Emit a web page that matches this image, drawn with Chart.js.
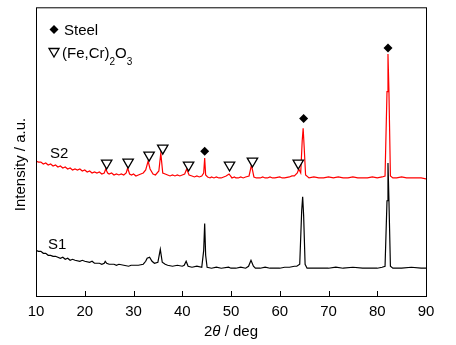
<!DOCTYPE html>
<html>
<head>
<meta charset="utf-8">
<script src="https://cdn.jsdelivr.net/npm/chart.js@4"></script>
<style>
  body { margin: 0; background: #fff; }
  canvas { display: block; }
</style>
</head>
<body>
<canvas id="xrd" width="456" height="345"></canvas>
<script>
// 2theta positions and intensities (a.u.)
const theta1 = [
  10, 10.5, 11, 11.5, 12, 12.5, 13, 13.5, 14, 15,
  15.5, 16, 16.5, 17, 17.5, 18, 19, 19.5, 20, 21,
  21.5, 22, 23, 23.5, 24, 24.2, 24.5, 25, 26, 26.5,
  27, 28, 29, 29.5, 30, 31, 32, 32.5, 32.8, 33.3,
  33.8, 34.3, 35, 35.5, 35.9, 36.5, 37, 38, 39, 40,
  40.4, 40.8, 41.2, 42, 43, 44, 44.4, 44.6, 44.8, 45.1,
  46, 47, 48, 49.5, 50, 51, 52, 53, 53.6, 54.1,
  54.6, 55, 56, 57, 58, 59, 60, 61, 62, 63,
  63.5, 64.1, 64.5, 64.7, 64.9, 65.2, 65.6, 67, 68, 70,
  71.5, 73, 75, 77, 80, 81, 81.6, 82.0, 82.2, 82.4,
  82.7, 83.2, 85, 87, 89, 90
];
const s1 = [
  46, 45, 45, 43, 43, 41, 41, 40, 40, 38,
  39, 37, 38, 36, 37, 36, 35, 36, 35, 34,
  35, 33, 33, 32, 33, 35, 33, 32, 32, 31,
  32, 31, 30, 31, 31, 31, 32, 35, 38, 39,
  35, 33, 34, 47, 34, 32, 31, 30, 31, 30,
  31, 35, 30, 29, 30, 29, 46, 73, 41, 29,
  28, 29, 28, 29, 28, 28, 29, 28, 30, 36,
  30, 28, 28, 29, 28, 28, 28, 29, 29, 30,
  30, 32, 86, 100, 81, 32, 28, 28, 28, 28,
  29, 28, 29, 28, 28, 29, 30, 96, 134, 96,
  30, 28, 28, 29, 28, 28
];

const theta2 = [
  10, 10.5, 11, 11.5, 12, 12.5, 13, 13.5, 14, 14.5,
  15, 15.5, 16, 16.5, 17, 17.5, 18, 18.5, 19, 19.5,
  20, 20.5, 21, 21.5, 22, 22.5, 23, 23.5, 24, 24.3,
  24.7, 25, 25.5, 26, 26.5, 27, 27.5, 28, 28.5, 28.8,
  29.2, 29.6, 30, 30.5, 31, 31.5, 32, 32.5, 33.0, 33.4,
  34, 34.5, 35.2, 35.6, 36, 36.5, 37, 37.5, 38, 38.5,
  39, 39.5, 40, 40.5, 40.9, 41.4, 42, 42.5, 43, 43.5,
  44, 44.4, 44.6, 44.8, 45.2, 45.7, 46, 46.5, 47, 47.5,
  48, 48.5, 49, 49.6, 50.2, 50.7, 51, 51.5, 52, 52.5,
  53, 53.7, 54.2, 54.7, 55.2, 56, 56.5, 57, 57.5, 58,
  58.5, 59, 60, 60.5, 61, 62, 62.5, 63, 63.6, 63.9,
  64.3, 64.6, 64.8, 65.0, 65.3, 66, 67, 68, 69, 70,
  71, 72, 73, 74, 75, 76, 77, 78, 79, 80,
  81, 81.6, 82.0, 82.2, 82.4, 82.7, 83.2, 84, 85, 86,
  87, 88, 89, 90
];
const s2 = [
  136, 135, 135, 133, 134, 132, 133, 131, 132, 130,
  131, 129, 130, 128, 129, 127, 128, 127, 128, 126,
  127, 125, 126, 124, 125, 124, 125, 123, 124, 128,
  124, 123, 124, 122, 123, 122, 123, 122, 124, 129,
  123, 122, 123, 121, 122, 123, 124, 127, 136, 128,
  123, 122, 126, 144, 124, 123, 122, 121, 122, 121,
  122, 121, 122, 123, 128, 122, 121, 120, 121, 120,
  121, 124, 139, 122, 120, 119, 120, 119, 120, 119,
  119, 120, 121, 123, 119, 120, 119, 119, 120, 119,
  120, 121, 132, 120, 119, 119, 120, 119, 119, 120,
  119, 119, 120, 119, 119, 120, 121, 121, 124, 128,
  124, 156, 169, 151, 122, 119, 120, 119, 119, 120,
  119, 120, 119, 119, 120, 119, 119, 119, 120, 119,
  120, 121, 206, 244, 206, 121, 119, 119, 120, 119,
  119, 119, 119, 118
];

// phase markers
const steelPos = [44.6, 64.9, 82.2];
const steelY = [146, 179, 250];
const oxidePos = [24.5, 28.9, 33.2, 36.0, 41.3, 49.7, 54.4, 63.8];
const oxideY = [134, 135, 142, 149, 132, 132, 136, 134];

const xTicks = [10, 20, 30, 40, 50, 60, 70, 80, 90];

const FONT = '"Liberation Sans", Arial, sans-serif';

function pts(xs, ys) {
  return xs.map((x, i) => ({ x: x, y: ys[i] }));
}

const decor = {
  id: "decor",
  afterDraw(chart) {
    const ctx = chart.ctx;
    const a = chart.chartArea;
    const xs = chart.scales.x;
    ctx.save();

    // frame
    ctx.strokeStyle = "#000";
    ctx.lineWidth = 1;
    ctx.strokeRect(a.left + 0.5, a.top + 0.5, a.right - a.left, a.bottom - a.top);

    // inward ticks
    ctx.beginPath();
    xTicks.forEach(v => {
      const px = Math.round(xs.getPixelForValue(v)) + 0.5;
      ctx.moveTo(px, a.bottom);
      ctx.lineTo(px, a.bottom - 5);
    });
    ctx.stroke();

    // legend
    ctx.fillStyle = "#000";
    ctx.beginPath();
    ctx.moveTo(54, 25); ctx.lineTo(58.5, 29.5); ctx.lineTo(54, 34); ctx.lineTo(49.5, 29.5);
    ctx.closePath();
    ctx.fill();

    ctx.lineWidth = 1.3;
    ctx.beginPath();
    ctx.moveTo(49, 48.5); ctx.lineTo(59, 48.5); ctx.lineTo(54, 57);
    ctx.closePath();
    ctx.stroke();

    ctx.textBaseline = "alphabetic";
    ctx.textAlign = "left";
    ctx.font = "15px " + FONT;
    ctx.fillText("Steel", 64, 35);

    let x = 62;
    ctx.fillText("(Fe,Cr)", x, 58);
    x += ctx.measureText("(Fe,Cr)").width;
    ctx.font = "10px " + FONT;
    ctx.fillText("2", x, 65);
    x += ctx.measureText("2").width;
    ctx.font = "15px " + FONT;
    ctx.fillText("O", x, 58);
    x += ctx.measureText("O").width;
    ctx.font = "10px " + FONT;
    ctx.fillText("3", x, 65);

    // sample labels
    ctx.font = "15px " + FONT;
    ctx.fillText("S2", 50, 158);
    ctx.fillText("S1", 48, 249);

    // y title
    ctx.save();
    ctx.translate(24.5, 164.5);
    ctx.rotate(-Math.PI / 2);
    ctx.textAlign = "center";
    ctx.fillText("Intensity / a.u.", 0, 0);
    ctx.restore();

    // x title: 2θ / deg
    const parts = [["2", "15px " + FONT], ["θ", "italic 15px " + FONT], [" / deg", "15px " + FONT]];
    let w = 0;
    parts.forEach(p => { ctx.font = p[1]; w += ctx.measureText(p[0]).width; });
    let tx = (a.left + a.right) / 2 - w / 2;
    parts.forEach(p => {
      ctx.font = p[1];
      ctx.fillText(p[0], tx, 336);
      tx += ctx.measureText(p[0]).width;
    });

    ctx.restore();
  }
};

new Chart("xrd", {
  type: "scatter",
  data: {
    datasets: [
      {
        label: "Steel",
        data: pts(steelPos, steelY),
        pointStyle: "rectRot",
        pointRadius: 4.5,
        backgroundColor: "#000",
        borderColor: "#000",
        borderWidth: 0,
        order: 0
      },
      {
        label: "(Fe,Cr)2O3",
        data: pts(oxidePos, oxideY),
        pointStyle: "triangle",
        rotation: 180,
        pointRadius: 6,
        backgroundColor: "#fff",
        borderColor: "#000",
        borderWidth: 1.3,
        order: 0
      },
      {
        label: "S1",
        data: pts(theta1, s1),
        showLine: true,
        pointRadius: 0,
        borderColor: "#000",
        borderWidth: 1.2,
        order: 1
      },
      {
        label: "S2",
        data: pts(theta2, s2),
        showLine: true,
        pointRadius: 0,
        borderColor: "#ff0000",
        borderWidth: 1.2,
        order: 2
      }
    ]
  },
  options: {
    responsive: false,
    animation: false,
    layout: { padding: { left: 36, right: 30, top: 5, bottom: 0 } },
    plugins: {
      legend: { display: false },
      tooltip: { enabled: false }
    },
    scales: {
      x: {
        type: "linear",
        min: 10,
        max: 90,
        afterBuildTicks: s => { s.ticks = xTicks.map(v => ({ value: v })); },
        grid: { display: false, drawTicks: false },
        border: { display: false },
        ticks: { color: "#000", padding: 7, font: { size: 15, family: FONT } },
        afterFit: s => { s.height = 49; }
      },
      y: {
        min: 0,
        max: 291,
        grid: { display: false, drawTicks: false },
        border: { display: false },
        ticks: { display: false },
        afterFit: s => { s.width = 0; }
      }
    }
  },
  plugins: [decor]
});
</script>
</body>
</html>
